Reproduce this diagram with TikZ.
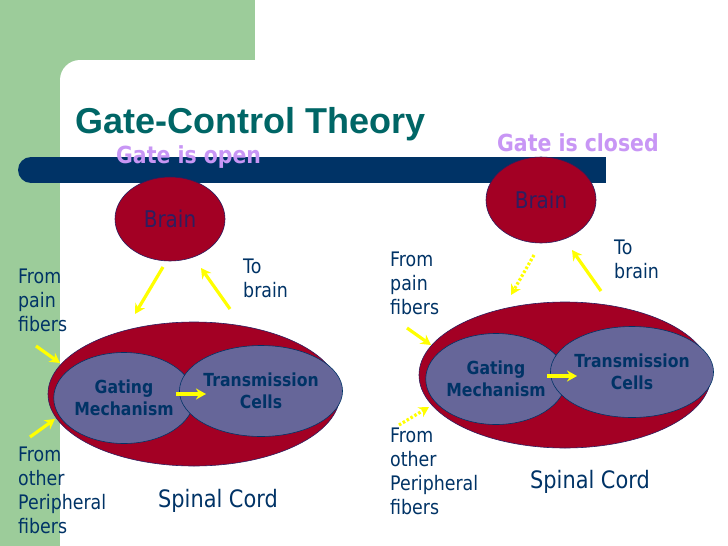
\documentclass[tikz,border=0pt]{standalone}
\usepackage{fontspec}
\setmainfont{DejaVu Sans}[FakeStretch=0.87]
\newfontfamily\titlefont{Liberation Sans}
\usetikzlibrary{shapes.geometric, arrows.meta}

\definecolor{slidegreen}{RGB}{156,204,154}
\definecolor{titleteal}{RGB}{0,102,102}
\definecolor{barnavy}{RGB}{0,51,102}
\definecolor{gatelilac}{RGB}{200,150,245}
\definecolor{cordred}{RGB}{163,0,36}
\definecolor{cellblue}{RGB}{102,102,153}
\definecolor{brainink}{RGB}{45,30,95}
\definecolor{signalyellow}{RGB}{255,255,0}

\tikzset{
  cord/.style={ellipse, draw=brainink, line width=0.6pt, fill=cordred, inner sep=0pt},
  brainbox/.style={cord, minimum width=110pt, text=brainink, font=\fontsize{23}{26}\selectfont},
  cellbox/.style={ellipse, draw=barnavy, line width=0.6pt, fill=cellblue, inner sep=0pt,
    minimum height=91pt, align=center, text=barnavy, font=\bfseries\fontsize{18}{22}\selectfont},
  fibertext/.style={anchor=base west, align=left, inner sep=0pt, text=barnavy,
    font=\fontsize{20}{24}\selectfont},
  gatetext/.style={anchor=base west, inner sep=0pt, text=gatelilac,
    font=\bfseries\fontsize{23.5}{26}\selectfont},
  cordtext/.style={anchor=base west, inner sep=0pt, text=barnavy, font=\fontsize{24}{28}\selectfont},
  signal/.style={draw=signalyellow, line width=3.2pt, -{Stealth[length=10pt,width=11pt]}},
  blocked/.style={signal, dash pattern=on 2.5pt off 2pt}
}

\begin{document}
\begin{tikzpicture}[x=1pt, y=-1pt]
\useasboundingbox (0,0) rectangle (728,546);
\fill[white] (0,0) rectangle (728,546);

% slide background
\fill[slidegreen] (0,0) rectangle (255,546);
\fill[white] (60,546) [rounded corners=20pt] -- (60,60) -- (728,60) [sharp corners] -- (728,546) -- cycle;
\fill[barnavy] (31,157) rectangle (606,183);
\fill[barnavy] (31,170) circle[radius=13];

\node[anchor=base west, inner sep=0pt, text=titleteal, font=\titlefont\bfseries\fontsize{36}{40}\selectfont]
  (title) at (75,133) {Gate-Control Theory};

% gate is open
\node[gatetext] (openL) at (116,163) {Gate is open};
\node[brainbox, minimum height=84pt] (brainL) at (170,219) {Brain};
\node[cord, minimum width=292pt, minimum height=144pt] (cordL) at (194,394) {};
\node[cellbox, minimum width=128pt] (gateL) at (124,398) {Gating\\Mechanism};
\node[cellbox, minimum width=134pt] (cellL) at (261,391) {Transmission\\Cells};
\node[cordtext] (spinalL) at (158,507) {Spinal Cord};

\node[fibertext] (painL) at (18,331) {From\\pain\\fibers};
\node[fibertext] (otherL) at (18,533) {From\\other\\Peripheral\\fibers};
\node[fibertext] (upL) at (243,297) {To\\brain};

\coordinate (downLa) at (163,267);
\coordinate (downLb) at (135,314);
\coordinate (upLa) at (230,309);
\coordinate (upLb) at (201,268);
\coordinate (painLa) at (36,346);
\coordinate (painLb) at (60,363);
\coordinate (otherLa) at (30,437);
\coordinate (otherLb) at (55,419);
\coordinate (gateLa) at (176,394);
\coordinate (gateLb) at (206,394);

\draw[signal] (downLa) -- (downLb);
\draw[signal] (upLa) -- (upLb);
\draw[signal] (painLa) -- (painLb);
\draw[signal] (otherLa) -- (otherLb);
\draw[signal] (gateLa) -- (gateLb);

% gate is closed
\node[gatetext] (closedR) at (497,151) {Gate is closed};
\node[brainbox, minimum height=86pt] (brainR) at (541,200) {Brain};
\node[cord, minimum width=292pt, minimum height=146pt] (cordR) at (565,375) {};
\node[cellbox, minimum width=128pt] (gateR) at (496,379) {Gating\\Mechanism};
\node[cellbox, minimum width=134pt] (cellR) at (632,372) {Transmission\\Cells};
\node[cordtext] (spinalR) at (530,488) {Spinal Cord};

\node[fibertext] (painR) at (390,314) {From\\pain\\fibers};
\node[fibertext] (otherR) at (390,514) {From\\other\\Peripheral\\fibers};
\node[fibertext] (upR) at (614,278) {To\\brain};

\coordinate (downRa) at (534,255);
\coordinate (downRb) at (511,295);
\coordinate (upRa) at (601,291);
\coordinate (upRb) at (572,250);
\coordinate (painRa) at (407,328);
\coordinate (painRb) at (431,345);
\coordinate (otherRa) at (399,425);
\coordinate (otherRb) at (429,407);
\coordinate (gateRa) at (547,376);
\coordinate (gateRb) at (577,376);

\draw[blocked] (downRa) -- (downRb);
\draw[signal] (upRa) -- (upRb);
\draw[signal] (painRa) -- (painRb);
\draw[blocked] (otherRa) -- (otherRb);
\draw[signal] (gateRa) -- (gateRb);
\end{tikzpicture}
\end{document}
